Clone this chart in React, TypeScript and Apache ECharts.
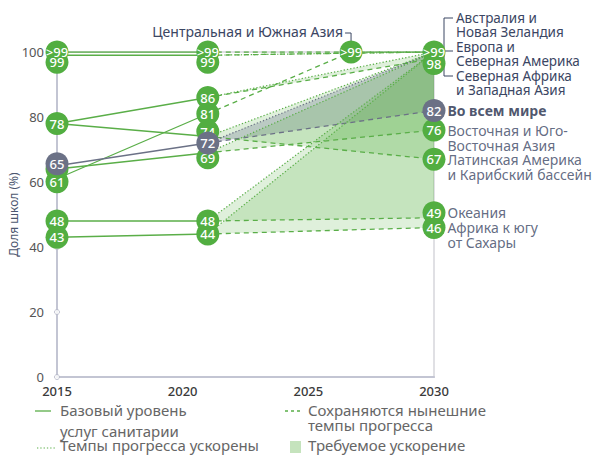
import React, { useEffect, useRef } from "react";
import * as echarts from "echarts";

// ---- data ----
const regions = [
  "Австралия и Новая Зеландия",
  "Европа и Северная Америка",
  "Северная Африка и Западная Азия",
  "Центральная и Южная Азия",
  "Латинская Америка и Карибский бассейн",
  "Во всем мире",
  "Восточная и Юго-Восточная Азия",
  "Океания",
  "Африка к югу от Сахары",
];
const labelNames = [
  "",
  "",
  "",
  "",
  "Латинская Америка\nи Карибский бассейн",
  "Во всем мире",
  "Восточная и Юго-\nВосточная Азия",
  "Океания",
  "Африка к югу\nот Сахары",
];
const groupLabel = "Австралия и\nНовая Зеландия\nЕвропа и\nСеверная Америка\nСеверная Африка\nи Западная Азия";
const years = [2015, 2021, 2030];
const base2015 = [100, 99, 78, 61, 78, 65, 64, 48, 43];
const base2021 = [100, 99, 86, 81, 74, 72, 69, 48, 44];
const current2030 = [100, 100, 98, 100, 67, 82, 76, 49, 46];
const targetValue = 100;
const csaReachYear = 2026.7;
const yTickValues = [0, 20, 40, 60, 80, 100];

const WORLD = 5;
const ANZ = 0;
const CSA = 3;

// ---- styles ----
const GREEN = "#52ae41";
const LINE_GREEN = "#5aae48";
const GRAY = "#6b7186";
const TEXT = "#3b4663";
const FONT = "Noto Sans";
const nudges: Record<string, number> = {
  "2015-99": 7,
  "2021-99": 7,
  "2030-98": 5,
  "2015-65": -2,
  "2015-61": 3,
  "2021-74": -5,
  "2021-69": 5,
  "2030-49": -5,
};
const backLayer = new Set(["2015-64", "2021-74", "2021-69"]);

const fmt = (v: number) => (v >= 99.5 ? ">99" : String(v));

export default function App() {
  const ref = useRef<HTMLDivElement>(null);
  useEffect(() => {
    document.body.style.margin = "0";
    const chart = echarts.init(ref.current!, null, { renderer: "svg" });
    const [y0, y1, y2] = years;
    const series: any[] = [];

    // bands (required acceleration)
    const bandData: number[][] = [];
    regions.forEach((_, i) => {
      if (current2030[i] < targetValue && i !== CSA) {
        bandData.push([y1, base2021[i], y2, current2030[i], targetValue, i === WORLD ? 1 : 0]);
      }
    });
    series.push({
      type: "custom",
      z: 1,
      silent: true,
      dimensions: ["x0", "a", "x1", "b", "c", "w"],
      encode: { x: [0, 2], y: [1, 3, 4] },
      data: bandData,
      renderItem: (params: any, api: any) => {
        const p1 = api.coord([api.value(0), api.value(1)]);
        const p2 = api.coord([api.value(2), api.value(3)]);
        const p3 = api.coord([api.value(2), api.value(4)]);
        const w = api.value(5) === 1;
        return {
          type: "polygon",
          shape: { points: [p1, p2, p3] },
          style: { fill: w ? "rgba(105,115,140,0.3)" : "rgba(95,178,75,0.2)" },
        };
      },
    });

    // lines
    regions.forEach((name, i) => {
      const color = i === WORLD ? GRAY : LINE_GREEN;
      series.push({
        type: "line",
        name: name + " base",
        z: 3,
        symbol: "none",
        silent: true,
        lineStyle: { color, width: 1.3 },
        data: [
          [y0, base2015[i]],
          [y1, base2021[i]],
        ],
      });
      const dashedData =
        i === CSA
          ? [
              [y1, base2021[i]],
              [csaReachYear, targetValue],
              [y2, current2030[i]],
            ]
          : [
              [y1, base2021[i]],
              [y2, current2030[i]],
            ];
      series.push({
        type: "line",
        name: name + " current",
        z: 3,
        symbol: "none",
        silent: true,
        lineStyle: { color, width: 1.3, type: [5, 4] },
        data: dashedData,
      });
      if (i !== ANZ && i !== CSA) {
        series.push({
          type: "line",
          name: name + " accelerated",
          z: 3,
          symbol: "none",
          silent: true,
          lineStyle: { color, width: 1.2, type: [1.3, 2] },
          data: [
            [y1, base2021[i]],
            [y2, targetValue],
          ],
        });
      }
    });

    // tick circles on y axis
    series.push({
      type: "scatter",
      z: 2,
      silent: true,
      symbol: "circle",
      symbolSize: 5,
      itemStyle: { color: "#fff", borderColor: "#b0b3c4", borderWidth: 1 },
      data: yTickValues.map((t) => [y0, t]),
    });

    // circles
    type Pt = { x: number; v: number; world: boolean };
    const pts: Pt[] = [];
    const addPts = (x: number, arr: number[]) => {
      const seen = new Set<number>();
      arr.forEach((v, i) => {
        if (seen.has(v)) return;
        seen.add(v);
        pts.push({ x, v, world: i === WORLD });
      });
    };
    addPts(y0, base2015);
    addPts(y1, base2021);
    addPts(y2, current2030);
    pts.push({ x: csaReachYear, v: targetValue, world: false });

    const toItem = (p: Pt) => ({
      value: [p.x, p.v],
      symbolOffset: [0, nudges[`${p.x}-${p.v}`] || 0],
    });
    const circleSeries = (data: Pt[], color: string, z: number) => ({
      type: "scatter",
      z,
      silent: true,
      symbol: "circle",
      symbolSize: 23,
      itemStyle: { color, opacity: 1 },
      label: {
        show: true,
        position: "inside",
        color: "#fff",
        fontSize: 13,
        fontWeight: 500,
        fontFamily: FONT,
        formatter: (pp: any) => fmt(pp.value[1]),
      },
      data: data.map(toItem),
    });
    const keyOf = (p: Pt) => `${p.x}-${p.v}`;
    series.push(circleSeries(pts.filter((p) => !p.world && backLayer.has(keyOf(p))), GREEN, 4));
    series.push(circleSeries(pts.filter((p) => !p.world && !backLayer.has(keyOf(p))), GREEN, 5));
    series.push(circleSeries(pts.filter((p) => p.world), GRAY, 6));

    // right-side names
    series.push({
      type: "scatter",
      z: 6,
      silent: true,
      symbolSize: 1,
      itemStyle: { color: "rgba(0,0,0,0)" },
      data: regions
        .map((_, i) => i)
        .filter((i) => labelNames[i] !== "")
        .map((i) => ({
          value: [y2, current2030[i]],
          symbolOffset: [0, nudges[`${y2}-${current2030[i]}`] || 0],
          label: {
            show: true,
            position: [14, -7],
            align: "left",
            verticalAlign: "top",
            lineHeight: 15,
            fontSize: 14,
            fontFamily: FONT,
            color: i === WORLD ? "#1e2a48" : TEXT,
            fontWeight: i === WORLD ? "bold" : "normal",
            formatter: labelNames[i],
          },
        })),
    });

    const option: any = {
      animation: false,
      textStyle: { fontFamily: FONT },
      grid: {
        left: 57,
        right: 158,
        top: 52,
        bottom: 78,
        containLabel: false,
        outerBoundsMode: "none",
        show: true,
        borderColor: "#e0e0e4",
        borderWidth: 2,
        backgroundColor: "transparent",
      },
      xAxis: {
        type: "value",
        min: 2015,
        max: 2030,
        interval: 5,
        axisLine: { show: true, lineStyle: { color: "#c3c5d3", width: 2 } },
        axisTick: { show: false },
        splitLine: { show: false },
        axisLabel: {
          color: "#3a3a3a",
          fontSize: 13,
          fontWeight: 500,
          margin: 7,
          fontFamily: FONT,
          formatter: (v: number) => String(v),
        },
      },
      yAxis: {
        type: "value",
        min: 0,
        max: 100,
        interval: 20,
        axisLine: { show: true, lineStyle: { color: "#c3c5d3", width: 2 } },
        axisTick: { show: false },
        splitLine: { show: false },
        axisLabel: { color: "#555", fontSize: 13, margin: 13, fontFamily: FONT },
        name: "Доля школ (%)",
        nameLocation: "middle",
        nameGap: 38,
        nameMoveOverlap: false,
        nameTextStyle: { color: "#4d5770", fontSize: 12, fontFamily: FONT },
      },
      series,
    };
    chart.setOption(option);

    const pC = chart.convertToPixel({ xAxisIndex: 0, yAxisIndex: 0 }, [csaReachYear, targetValue]) as number[];
    const pE = chart.convertToPixel({ xAxisIndex: 0, yAxisIndex: 0 }, [y2, targetValue]) as number[];
    const legendText = { fill: "#666", fontSize: 15, fontFamily: FONT };
    const graphic: any[] = [
      // Central & South Asia annotation
      {
        type: "text",
        x: pC[0] - 8,
        y: pC[1] - 21,
        style: { text: regions[CSA], fill: TEXT, fontSize: 14, fontFamily: FONT, align: "right", verticalAlign: "middle" },
      },
      {
        type: "polyline",
        shape: { points: [[pC[0] - 6, pC[1] - 19], [pC[0], pC[1] - 19], [pC[0], pC[1] - 11]] },
        style: { stroke: TEXT, lineWidth: 1, fill: null },
      },
      // group bracket
      {
        type: "polyline",
        shape: { points: [[pE[0] + 19, pE[1] - 34], [pE[0] + 10, pE[1] - 34], [pE[0] + 10, pE[1] + 24], [pE[0] + 19, pE[1] + 24]] },
        style: { stroke: TEXT, lineWidth: 1, fill: null },
      },
      {
        type: "line",
        shape: { x1: pE[0] + 11, y1: pE[1] - 1, x2: pE[0] + 19, y2: pE[1] - 1 },
        style: { stroke: TEXT, lineWidth: 1 },
      },
      {
        type: "text",
        x: pE[0] + 22,
        y: pE[1] - 41.5,
        style: { text: groupLabel, fill: TEXT, fontSize: 13.5, lineHeight: 14.5, fontFamily: FONT, align: "left", verticalAlign: "top" },
      },
      // legend
      { type: "line", shape: { x1: 35, y1: 411, x2: 51, y2: 411 }, style: { stroke: LINE_GREEN, lineWidth: 1.3 } },
      { type: "text", x: 60, y: 410, style: { ...legendText, text: "Базовый уровень", verticalAlign: "middle" } },
      { type: "text", x: 60, y: 431, style: { ...legendText, text: "услуг санитарии", verticalAlign: "middle" } },
      { type: "line", shape: { x1: 285, y1: 411, x2: 302, y2: 411 }, style: { stroke: LINE_GREEN, lineWidth: 1.3, lineDash: [3, 3] } },
      { type: "text", x: 308, y: 410, style: { ...legendText, text: "Сохраняются нынешние", verticalAlign: "middle" } },
      { type: "text", x: 308, y: 425, style: { ...legendText, text: "темпы прогресса", verticalAlign: "middle" } },
      { type: "line", shape: { x1: 37, y1: 448, x2: 55, y2: 448 }, style: { stroke: LINE_GREEN, lineWidth: 1.2, lineDash: [1.3, 2] } },
      { type: "text", x: 60, y: 445, style: { ...legendText, text: "Темпы прогресса ускорены", verticalAlign: "middle" } },
      { type: "rect", shape: { x: 290, y: 441, width: 11, height: 12 }, style: { fill: "#c5e3bd" } },
      { type: "text", x: 308, y: 445, style: { ...legendText, text: "Требуемое ускорение", verticalAlign: "middle" } },
    ];
    chart.setOption({ graphic });

    return () => chart.dispose();
  }, []);
  return <div ref={ref} style={{ width: 592, height: 455 }} />;
}
